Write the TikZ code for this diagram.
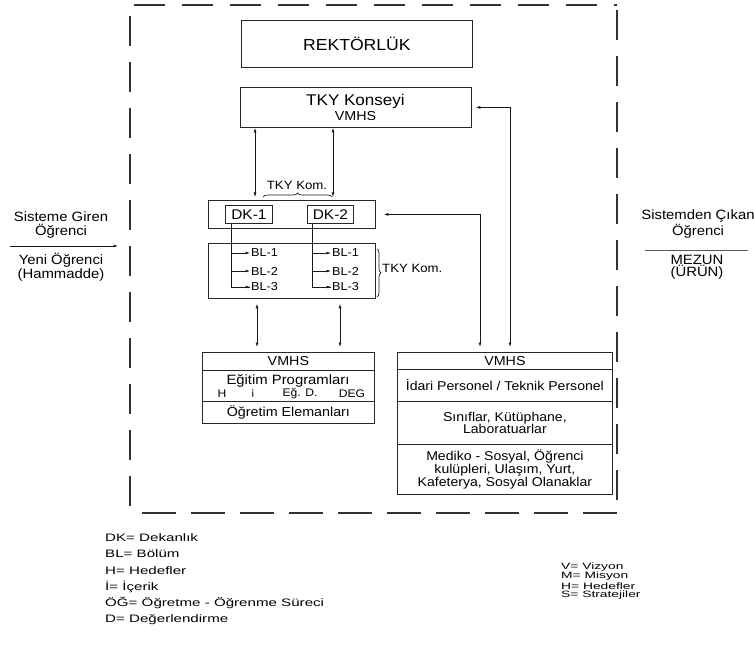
\documentclass[tikz,border=0pt]{standalone}
\usepackage{fontspec}
\setmainfont{Liberation Sans}[FakeStretch=1.1]
\newfontfamily\legfont{Liberation Sans}[FakeStretch=1.4]
\newfontfamily\legrfont{Liberation Sans}[FakeStretch=1.5]
\usetikzlibrary{arrows.meta,decorations.pathreplacing,calc}
\begin{document}
\begin{tikzpicture}[x=1pt,y=-1pt,
  box/.style={draw=black!85, line width=0.8pt, inner sep=0pt, anchor=north west},
  txt/.style={inner sep=0pt, font=\fontsize{13.5}{13}\selectfont, align=center},
  small/.style={inner sep=0pt, font=\fontsize{11.5}{12}\selectfont},
  leg/.style={inner sep=0pt, anchor=west, font=\legfont\fontsize{10.8}{11}\selectfont},
  legr/.style={inner sep=0pt, anchor=west, font=\legrfont\fontsize{9.2}{9}\selectfont},
  conn/.style={line width=0.7pt, draw=black!90},
  arr/.style={conn, -{Latex[length=4.5pt,width=3pt]}},
  dbl/.style={conn, {Latex[length=4.5pt,width=3pt]}-{Latex[length=4.5pt,width=3pt]}},
  border/.style={line width=1.1pt, draw=black!80},
  brc/.style={conn, decorate, decoration={brace, amplitude=4pt}}
]
\useasboundingbox (0,0) rectangle (754,652);

% dashed frame
\draw[border, dash pattern=on 31pt off 17pt] (134,5) -- (617,5);
\draw[border, dash pattern=on 34pt off 15pt] (142,513) -- (617,513);
\draw[border, dash pattern=on 30pt off 16pt] (130,16) -- (130,508);
\draw[border, dash pattern=on 30pt off 16pt] (617,10) -- (617,500);

% boxes
\node[box, minimum width=231, minimum height=47, font=\fontsize{16}{16}\selectfont] (rek) at (241,20) {REKTÖRLÜK};
\node[box, minimum width=231, minimum height=40] (tky) at (240,87) {};
\node[inner sep=0pt, font=\fontsize{15.5}{15}\selectfont] (tkyt) at (355.5,101) {TKY Konseyi};
\node[inner sep=0pt, font=\fontsize{13}{13}\selectfont] (tkyv) at (355.5,116) {VMHS};

\node[box, minimum width=167, minimum height=28] (dkbox) at (208,200) {};
\node[box, minimum width=47, minimum height=18, font=\fontsize{14}{14}\selectfont] (dk1) at (225,205) {DK-1};
\node[box, minimum width=46, minimum height=18, font=\fontsize{14}{14}\selectfont] (dk2) at (307,205) {DK-2};
\node[small, font=\fontsize{12}{12}\selectfont] (kom1) at (297,185) {TKY Kom.};

\node[box, minimum width=167, minimum height=55] (blbox) at (208,243) {};
\node[small, anchor=west, inner sep=1pt] (b11) at (250,253) {BL-1};
\node[small, anchor=west, inner sep=1pt] (b12) at (250,271) {BL-2};
\node[small, anchor=west, inner sep=1pt] (b13) at (250,287) {BL-3};
\node[small, anchor=west, inner sep=1pt] (b21) at (331,253) {BL-1};
\node[small, anchor=west, inner sep=1pt] (b22) at (331,271) {BL-2};
\node[small, anchor=west, inner sep=1pt] (b23) at (331,287) {BL-3};
\node[small, anchor=west, font=\fontsize{12}{12}\selectfont] (kom2) at (382,268) {TKY Kom.};

% left VMHS box
\node[box, minimum width=172, minimum height=18, font=\fontsize{13}{13}\selectfont] (l1) at (202,352) {VMHS};
\node[box, minimum width=172, minimum height=31] (l2) at (202,370) {};
\node[box, minimum width=172, minimum height=22, font=\fontsize{13}{13}\selectfont] (l3) at (202,401) {Öğretim Elemanları};
\node[inner sep=0pt, font=\fontsize{13.5}{13}\selectfont] (ep) at (288,381) {Eğitim Programları};
\node[inner sep=0pt, font=\fontsize{11}{11}\selectfont] (lh) at (222,393.5) {H};
\node[inner sep=0pt, font=\fontsize{11}{11}\selectfont] (li) at (253,393.5) {¡};
\node[inner sep=0pt, font=\fontsize{11}{11}\selectfont] (ld) at (300,393.5) {Eğ. D.};
\node[inner sep=0pt, font=\fontsize{11}{11}\selectfont] (lg) at (352,393.5) {DEG};

% right VMHS box
\node[box, minimum width=215, minimum height=17, font=\fontsize{13}{13}\selectfont] (r1) at (397,352) {VMHS};
\node[box, minimum width=215, minimum height=32, font=\fontsize{12.8}{13}\selectfont] (r2) at (397,369) {İdari Personel / Teknik Personel};
\node[box, minimum width=215, minimum height=43, font=\fontsize{12.8}{12.5}\selectfont, align=center] (r3) at (397,401) {Sınıflar, Kütüphane,\\Laboratuarlar};
\node[box, minimum width=215, minimum height=50, font=\fontsize{12.8}{13}\selectfont, align=center] (r4) at (397,444) {Mediko - Sosyal, Öğrenci\\kulüpleri, Ulaşım, Yurt,\\Kafeterya, Sosyal Olanaklar};

% helper coordinates
\coordinate (xa) at (255,0);
\coordinate (xb) at (333,0);
\coordinate (xc) at (257,0);
\coordinate (xd) at (340,0);
\coordinate (xe) at (480,0);
\coordinate (xf) at (510,0);
\coordinate (t1) at (231,0);
\coordinate (t2) at (312,0);

% connectors
\draw[dbl, shorten >=3pt] (tky.south -| xa) -- (dkbox.north -| xa);
\draw[dbl, shorten >=3pt] (tky.south -| xb) -- (dkbox.north -| xb);
\draw[dbl, shorten >=5pt, shorten <=5pt] (blbox.south -| xc) -- (l1.north -| xc);
\draw[dbl, shorten >=5pt, shorten <=5pt] (blbox.south -| xd) -- (l1.north -| xd);
\draw[dbl, shorten <=5pt, shorten >=8pt] (r1.north -| xe) |- (dkbox.east);
\draw[dbl, shorten <=5pt, shorten >=4pt] (r1.north -| xf) |- (tky.east);

% trees
\draw[conn] (dk1.south -| t1) |- (b13.west);
\draw[arr] (t1 |- b11.west) -- (b11.west);
\draw[arr] (t1 |- b12.west) -- (b12.west);
\draw[arr] (t1 |- b13.west) -- (b13.west);
\draw[conn] (dk2.south -| t2) |- (b23.west);
\draw[arr] (t2 |- b21.west) -- (b21.west);
\draw[arr] (t2 |- b22.west) -- (b22.west);
\draw[arr] (t2 |- b23.west) -- (b23.west);

% braces
\draw[brc] (263,197) -- (332,197);
\draw[brc] (377,249) -- (377,297);

% input / output
\node[txt, font=\fontsize{13.5}{13.5}\selectfont] (inA) at (61,225) {Sisteme Giren\\Öğrenci};
\node[txt, font=\fontsize{13.5}{12.5}\selectfont] (inB) at (61,267) {Yeni Öğrenci\\(Hammadde)};
\coordinate (in1) at (10,246);
\coordinate (in2) at (118,246);
\draw[arr] (in1) -- (in2);

\node[txt, font=\fontsize{13.5}{12.5}\selectfont] (outA) at (698,224) {Sistemden Çıkan\\Öğrenci};
\node[txt, font=\fontsize{13.5}{12.5}\selectfont] (outB) at (697,267.5) {MEZUN\\(ÜRÜN)};
\coordinate (out1) at (645,250);
\coordinate (out2) at (748,250);
\draw[conn, draw=black!65] (out1) -- (out2);

% legends
\node[leg] (g1) at (105,538) {DK= Dekanlık};
\node[leg] (g2) at (105,554) {BL= Bölüm};
\node[leg] (g3) at (105,571) {H= Hedefler};
\node[leg] (g4) at (105,587) {İ= İçerik};
\node[leg] (g5) at (105,603) {ÖĞ= Öğretme - Öğrenme Süreci};
\node[leg] (g6) at (105,620) {D= Değerlendirme};

\node[legr] (v1) at (561,567) {V= Vizyon};
\node[legr] (v2) at (561,576.5) {M= Misyon};
\node[legr] (v3) at (561,586) {H= Hedefler};
\node[legr] (v4) at (561,595.5) {S= Stratejiler};
\end{tikzpicture}
\end{document}
